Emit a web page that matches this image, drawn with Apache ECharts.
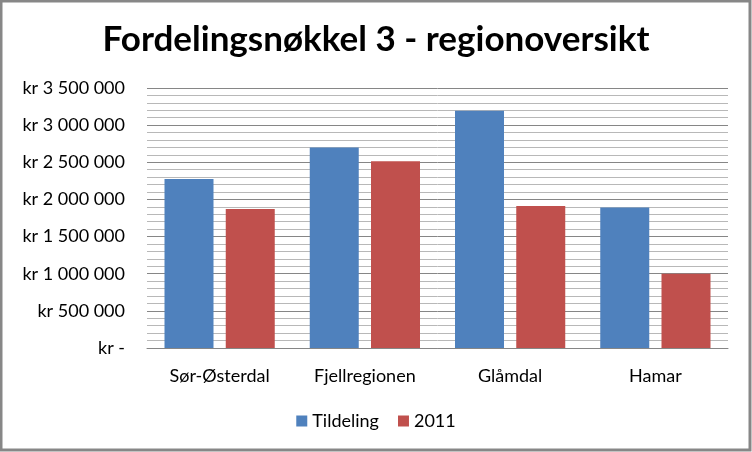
<!DOCTYPE html>
<html><head><meta charset="utf-8">
<script src="https://cdn.jsdelivr.net/npm/echarts@6/dist/echarts.min.js"></script>
<style>html,body{margin:0;padding:0;background:#fff}#c{width:752px;height:452px}</style>
</head><body><div id="c"></div>
<script>
var categories = ['Sør-Østerdal', 'Fjellregionen', 'Glåmdal', 'Hamar'];
var tildeling = [2275000, 2700000, 3195000, 1890000];
var y2011 = [1870000, 2515000, 1912000, 998000];
var seriesNames = ['Tildeling', '2011'];
var titleText = 'Fordelingsnøkkel 3 - regionoversikt';

function fmt(v) {
  if (v === 0) return 'kr -';
  var s = String(Math.round(v));
  return 'kr ' + s.replace(/\B(?=(\d{3})+(?!\d))/g, ' ');
}
var font = 'Lato, "Open Sans", sans-serif';
var chart = echarts.init(document.getElementById('c'));
chart.setOption({
  animation: false,
  backgroundColor: '#fff',
  title: { text: titleText, left: 'center', top: 17,
    textStyle: { fontFamily: font, fontWeight: 'bold', fontSize: 35, color: '#000' } },
  legend: { bottom: 17, left: 'center', itemWidth: 11, itemHeight: 11, itemGap: 19,
    icon: 'rect', textStyle: { fontFamily: font, fontSize: 18, color: '#000' },
    data: seriesNames },
  grid: { left: 147, right: 24, top: 88, bottom: 104, containLabel: false },
  xAxis: { type: 'category', data: categories,
    axisLine: { lineStyle: { color: '#868686' } },
    axisTick: { show: false },
    axisLabel: { fontFamily: font, fontSize: 18, color: '#000', margin: 19 } },
  yAxis: { type: 'value', min: 0, max: 3500000, interval: 500000,
    axisLine: { show: false }, axisTick: { show: false },
    axisLabel: { fontFamily: font, fontSize: 18, color: '#000', margin: 22, formatter: fmt },
    splitLine: { lineStyle: { color: '#868686', width: 1 } },
    minorTick: { show: false, splitNumber: 5 },
    minorSplitLine: { show: true, lineStyle: { color: '#b8b8b8', width: 1 } } },
  graphic: [{ type: 'rect', shape: { x: 1, y: 1, width: 749, height: 449 },
    style: { fill: 'none', stroke: '#878787', lineWidth: 3 }, z: 100 }],
  series: [
    { name: seriesNames[0], type: 'bar', data: tildeling, barWidth: 49, barGap: '25%',
      itemStyle: { color: '#4f81bd' } },
    { name: seriesNames[1], type: 'bar', data: y2011, barWidth: 49, barGap: '25%',
      itemStyle: { color: '#c0504d' } }
  ]
});
</script></body></html>
